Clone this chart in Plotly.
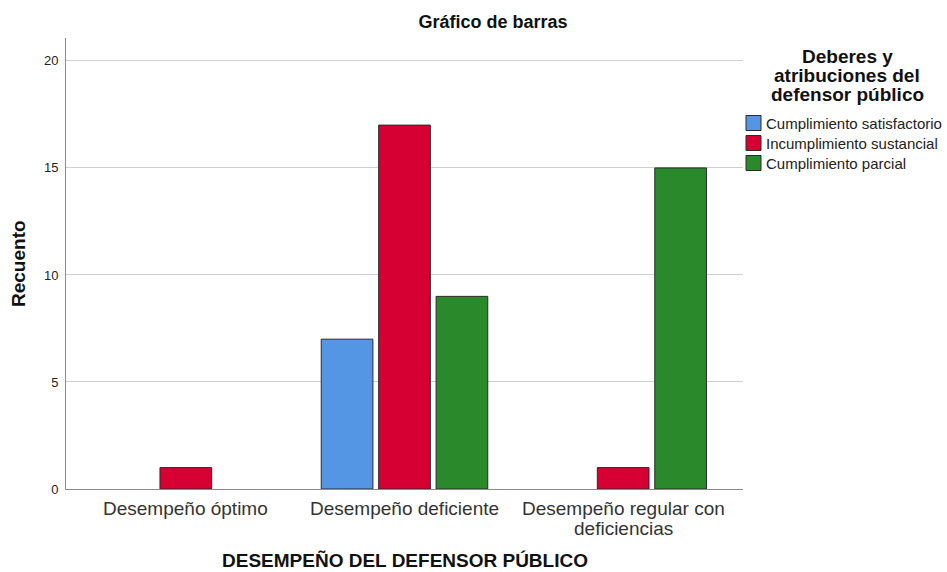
import plotly.graph_objects as go

# Categories and counts
categorias = ["Desempeño óptimo", "Desempeño deficiente", "Desempeño regular con\ndeficiencias"]
series = ["Cumplimiento satisfactorio", "Incumplimiento sustancial", "Cumplimiento parcial"]
satisfactorio = [0, 7, 0]
incumplimiento = [1, 17, 1]
parcial = [0, 9, 15]
colores = ["#5596E4", "#D70032", "#2A8A2B"]
y_ticks = [0, 5, 10, 15, 20]
titulo_leyenda = ["Deberes y", "atribuciones del", "defensor público"]

W, H = 947, 572
L, R, T, B = 66, 204, 38, 83
PW, PH = W - L - R, H - T - B
FONT = "Liberation Sans, Arial, sans-serif"


def px_x(px):
    return (px - L) / PW


def px_y(py):
    return (H - B - py) / PH


fig = go.Figure()
for nombre, valores, color in zip(series, [satisfactorio, incumplimiento, parcial], colores):
    # empty cells are not drawn as bars
    fig.add_trace(go.Bar(
        name=nombre,
        x=categorias,
        y=[v if v else None for v in valores],
        marker=dict(color=color, line=dict(color="#2b2b2b", width=1)),
        showlegend=False,
    ))

annotations = []
shapes = []

# category labels, one line at a time
for cat in categorias:
    for i, linea in enumerate(cat.split("\n")):
        annotations.append(dict(
            x=cat, xref="x", y=px_y(508 + 20 * i), yref="paper",
            text=linea, showarrow=False, xanchor="center", yanchor="middle",
            font=dict(size=19, color="#333", family=FONT),
        ))

# axis titles
annotations.append(dict(
    x=px_x(405), xref="paper", y=px_y(560), yref="paper",
    text="<b>DESEMPEÑO DEL DEFENSOR PÚBLICO</b>", showarrow=False,
    xanchor="center", yanchor="middle", font=dict(size=19, color="#111", family=FONT),
))
annotations.append(dict(
    x=px_x(18), xref="paper", y=px_y(264), yref="paper",
    text="<b>Recuento</b>", showarrow=False, textangle=-90,
    xanchor="center", yanchor="middle", font=dict(size=19, color="#111", family=FONT),
))

# legend block
for i, linea in enumerate(titulo_leyenda):
    annotations.append(dict(
        x=px_x(847), xref="paper", y=px_y(57 + 19 * i), yref="paper",
        text=f"<b>{linea}</b>", showarrow=False, xanchor="center", yanchor="middle",
        font=dict(size=19, color="#111", family=FONT),
    ))
for i, (nombre, color) in enumerate(zip(series, colores)):
    yc = 123 + 20 * i
    shapes.append(dict(
        type="rect", xref="paper", yref="paper",
        x0=px_x(746), x1=px_x(761), y0=px_y(yc - 7.5), y1=px_y(yc + 7.5),
        fillcolor=color, line=dict(color="#2b2b2b", width=1),
    ))
    annotations.append(dict(
        x=px_x(764), xref="paper", y=px_y(yc), yref="paper",
        text=nombre, showarrow=False, xanchor="left", yanchor="middle",
        font=dict(size=15, color="#222", family=FONT),
    ))

fig.update_layout(
    width=W, height=H,
    margin=dict(l=L, r=R, t=T, b=B, autoexpand=False),
    paper_bgcolor="white", plot_bgcolor="white",
    barmode="group", bargap=0.212, bargroupgap=0.1,
    showlegend=False,
    font=dict(family=FONT, color="#222"),
    title=dict(text="<b>Gráfico de barras</b>", x=493 / W, xanchor="center",
               y=1 - 22 / H, yanchor="middle", font=dict(size=18, color="#111")),
    xaxis=dict(
        range=[-0.548, 2.548], showline=True, linecolor="#8a8a8a", linewidth=1,
        ticks="", showticklabels=False, automargin=False,
    ),
    yaxis=dict(
        range=[0, 21.07], tickvals=y_ticks, showline=True, linecolor="#8a8a8a", linewidth=1,
        showgrid=True, gridcolor="#cfcfcf", gridwidth=1, zeroline=False,
        ticks="", ticklabelstandoff=4, automargin=False,
        tickfont=dict(size=13, color="#222"),
    ),
    annotations=annotations,
    shapes=shapes,
)

fig.write_html("out.html")
